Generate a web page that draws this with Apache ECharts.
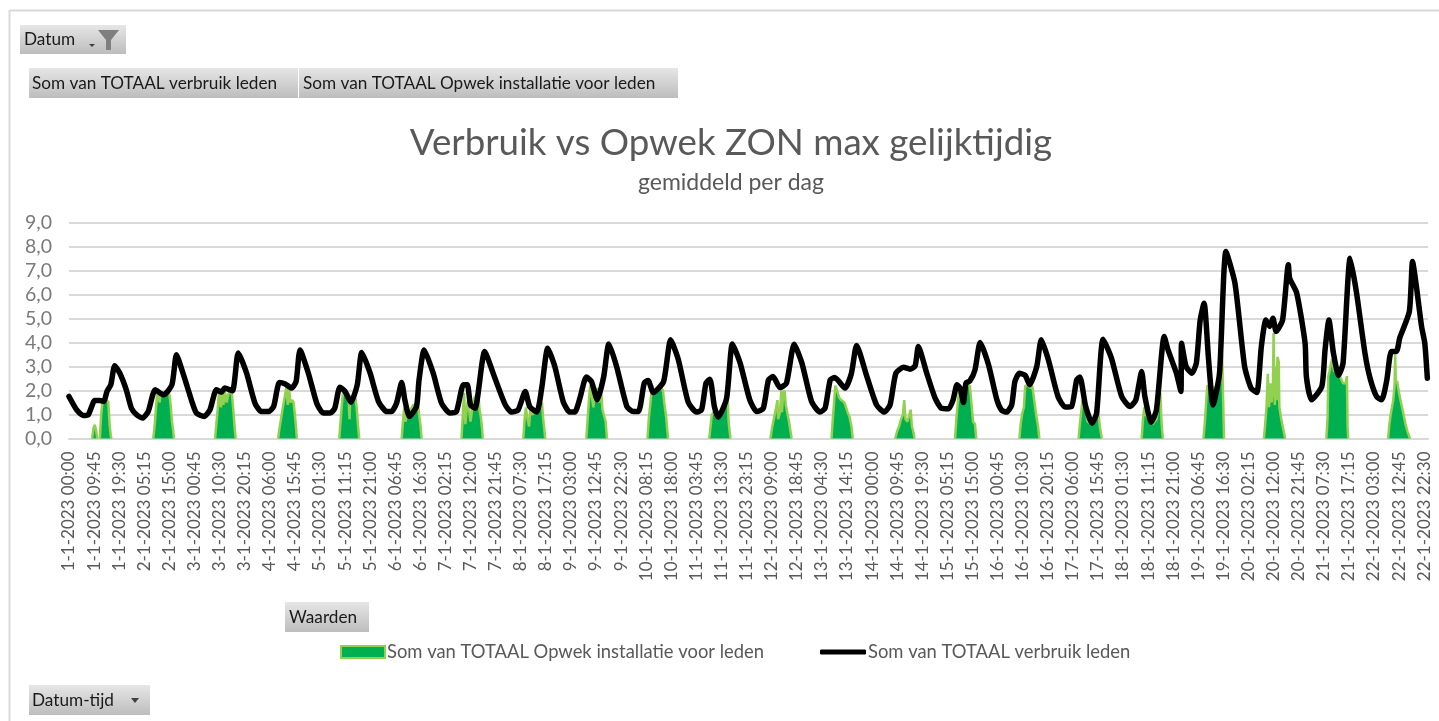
<!DOCTYPE html>
<html>
<head>
<meta charset="utf-8">
<title>Verbruik vs Opwek</title>
<script src="https://cdn.jsdelivr.net/npm/echarts@6/dist/echarts.min.js"></script>
<style>
  html, body { margin: 0; padding: 0; background: #fff; }
  #chart { width: 1439px; height: 721px; }
</style>
</head>
<body>
<div id="chart"></div>
<script>
// x = kwartier sinds 1-1-2023 00:00
const tijdLabels = [
  '1-1-2023 00:00','1-1-2023 09:45','1-1-2023 19:30','2-1-2023 05:15','2-1-2023 15:00',
  '3-1-2023 00:45','3-1-2023 10:30','3-1-2023 20:15','4-1-2023 06:00','4-1-2023 15:45',
  '5-1-2023 01:30','5-1-2023 11:15','5-1-2023 21:00','6-1-2023 06:45','6-1-2023 16:30',
  '7-1-2023 02:15','7-1-2023 12:00','7-1-2023 21:45','8-1-2023 07:30','8-1-2023 17:15',
  '9-1-2023 03:00','9-1-2023 12:45','9-1-2023 22:30','10-1-2023 08:15','10-1-2023 18:00',
  '11-1-2023 03:45','11-1-2023 13:30','11-1-2023 23:15','12-1-2023 09:00','12-1-2023 18:45',
  '13-1-2023 04:30','13-1-2023 14:15','14-1-2023 00:00','14-1-2023 09:45','14-1-2023 19:30',
  '15-1-2023 05:15','15-1-2023 15:00','16-1-2023 00:45','16-1-2023 10:30','16-1-2023 20:15',
  '17-1-2023 06:00','17-1-2023 15:45','18-1-2023 01:30','18-1-2023 11:15','18-1-2023 21:00',
  '19-1-2023 06:45','19-1-2023 16:30','20-1-2023 02:15','20-1-2023 12:00','20-1-2023 21:45',
  '21-1-2023 07:30','21-1-2023 17:15','22-1-2023 03:00','22-1-2023 12:45','22-1-2023 22:30'
];

const verbruik = [
  [0,1.75],[12,1.19],[22,.96],[30,.99],[40,1.58],[48,1.58],[54,1.54],[59,1.96],[65,2.24],[71,3.03],[79,2.72],[89,2.03],[97,1.26],
  [105,.99],[114,.85],[123,1.12],[134,2.03],[147,1.82],[160,2.24],[167,3.49],[178,2.65],[191,1.54],[198,1.06],
  [210,.92],[219,1.19],[229,2.03],[237,1.93],[242,2.1],[254,1.99],[263,3.56],[276,2.72],[289,1.47],
  [299,1.12],[310,1.12],[318,1.33],[327,2.33],[336,2.27],[346,2.1],[353,2.38],[359,3.69],[372,2.72],[385,1.47],
  [395,1.06],[406,1.06],[413,1.26],[421,2.14],[429,1.96],[438,1.51],[448,2.24],[455,3.58],[468,2.72],[481,1.54],
  [494,1.12],[501,1.12],[509,1.47],[517,2.33],[522,1.6],[529,.92],[540,1.33],[544,2.44],[552,3.69],[566,2.72],[579,1.47],
  [592,1.06],[602,1.12],[613,2.24],[619,2.24],[624,1.4],[631,1.26],[646,3.62],[662,2.51],[678,1.4],
  [688,1.1],[698,1.19],[709,1.96],[716,1.33],[727,1.1],[735,2.17],[744,3.76],[755,3.0],[768,1.54],
  [778,1.1],[786,1.1],[794,1.68],[804,2.56],[812,2.37],[821,1.61],[831,2.58],[839,3.94],[851,3.0],[867,1.33],
  [877,1.12],[885,1.12],[894,2.31],[900,2.42],[908,1.92],[924,2.37],[935,4.11],[947,3.28],[962,1.54],
  [975,1.1],[983,1.19],[990,2.31],[996,2.47],[1003,1.33],[1009,.89],[1022,1.68],[1031,3.94],[1043,3.14],[1058,1.61],
  [1069,1.12],[1079,1.26],[1087,2.44],[1094,2.58],[1105,2.12],[1115,2.31],[1127,3.93],[1139,3.14],[1154,1.54],
  [1167,1.1],[1175,1.26],[1183,2.44],[1190,2.54],[1206,2.1],[1216,2.72],[1224,3.88],[1240,2.58],[1255,1.4],
  [1267,1.1],[1276,1.4],[1285,2.72],[1297,2.97],[1307,2.89],[1315,3.03],[1320,3.83],[1333,2.72],[1346,1.68],
  [1356,1.26],[1367,1.24],[1374,1.61],[1380,2.24],[1385,2.1],[1390,1.5],[1394,2.31],[1400,2.4],[1408,2.86],[1416,4.0],[1429,3.07],[1442,1.61],
  [1449,1.19],[1457,1.1],[1465,1.4],[1470,2.37],[1477,2.72],[1486,2.63],[1493,2.24],[1504,3.0],[1511,4.11],[1522,3.28],[1537,1.75],
  [1548,1.31],[1558,1.33],[1566,2.44],[1571,2.56],[1580,1.33],[1590,.64],[1597,1.06],[1607,4.14],[1620,3.35],[1636,1.75],
  [1649,1.33],[1658,1.61],[1667,2.79],[1672,1.75],[1682,.68],[1690,1.19],[1702,4.25],[1708,3.69],[1721,2.72],[1728,1.96],
  [1729,3.97],[1736,3.0],[1745,2.72],[1752,3.14],[1758,4.94],[1764,5.64],[1771,3.28],[1778,1.4],[1788,2.72],[1798,7.79],[1812,6.47],[1827,3.0],
  [1837,2.1],[1846,1.92],[1853,3.83],[1860,4.94],[1866,4.67],[1871,5.01],[1876,4.46],[1886,4.94],[1895,7.24],[1897,6.68],[1908,6.06],[1921,3.97],
  [1923,2.58],[1931,1.61],[1947,2.17],[1952,3.69],[1958,4.94],[1965,3.56],[1973,2.63],[1980,3.14],[1991,7.51],[2001,6.06],[2014,3.56],
  [2022,2.51],[2032,1.75],[2040,1.61],[2048,2.44],[2055,3.63],[2063,3.63],[2068,4.18],[2083,5.29],[2088,7.38],[2094,6.33],[2102,4.67],[2107,3.97],[2111,2.51]
];

// opwek per dag (alleen de uren met zon)
const opwekDagen = [
  [[36,0],[38,.43],[40,.57],[42,.36],[44,0]],
  [[48,0],[50,1.0],[52,1.5],[61,1.55],[63,.6],[65,.1],[66,0]],
  [[131,0],[133,.5],[135,1.2],[137,1.85],[141,1.5],[142,1.9],[152,1.85],[156,1.85],[158,1.4],[160,.7],[162,.3],[163,0]],
  [[227,0],[229,.6],[231,1.2],[233,1.9],[236,1.3],[238,1.9],[240,1.4],[242,2.0],[245,1.5],[248,1.9],[253,1.9],[255,1.3],[257,.6],[259,0]],
  [[325,0],[327,.4],[330,.9],[333,1.4],[336,1.4],[338,2.15],[340,1.4],[342,2.1],[344,1.5],[347,1.6],[349,1.5],[351,1.0],[353,.4],[354,0]],
  [[420,0],[422,.7],[424,1.4],[426,2.0],[430,1.9],[432,1.8],[434,1.9],[436,.8],[437,1.8],[440,1.5],[445,1.7],[447,1.3],[449,.6],[451,0]],
  [[517,0],[519,.7],[521,1.3],[523,.7],[525,1.0],[528,.9],[531,1.2],[535,1.4],[540,1.4],[542,1.5],[544,1.0],[546,.6],[548,0]],
  [[610,0],[612,1.0],[614,1.9],[616,.6],[618,1.2],[620,1.6],[624,.7],[626,1.1],[630,1.7],[636,1.9],[638,1.2],[640,.9],[642,.4],[643,0]],
  [[706,0],[708,.8],[710,1.3],[712,.9],[715,.5],[717,1.2],[720,1.0],[724,1.1],[730,1.3],[735,1.5],[737,.8],[739,.3],[740,0]],
  [[804,0],[806,.8],[808,1.6],[810,2.2],[812,2.2],[815,1.3],[817,2.0],[820,2.1],[824,1.5],[827,2.0],[829,1.2],[831,1.0],[834,.7],[836,0]],
  [[899,0],[901,.8],[904,1.6],[906,2.2],[908,2.0],[915,2.0],[920,2.1],[923,2.0],[925,1.5],[928,.9],[931,0]],
  [[995,0],[997,.5],[999,1.0],[1002,1.1],[1006,.9],[1012,.9],[1016,1.3],[1022,1.6],[1024,1.5],[1025,.7],[1028,0]],
  [[1090,0],[1093,.5],[1096,.9],[1099,1.3],[1101,1.6],[1102,.8],[1105,1.1],[1107,2.0],[1108,1.1],[1110,1.9],[1112,2.0],[1114,1.4],[1116,1.1],[1119,.7],[1123,0]],
  [[1185,0],[1187,.8],[1189,1.5],[1191,2.2],[1194,2.2],[1197,1.7],[1200,1.6],[1205,1.5],[1210,1.1],[1213,.9],[1216,.5],[1218,0]],
  [[1284,0],[1287,.3],[1290,.5],[1293,.8],[1296,1.0],[1298,1.6],[1300,.8],[1303,.7],[1306,.7],[1308,1.2],[1310,.5],[1312,.3],[1314,0]],
  [[1377,0],[1379,.8],[1381,1.4],[1383,1.4],[1384,2.2],[1386,1.6],[1395,2.2],[1400,2.2],[1403,2.2],[1405,.7],[1408,.6],[1410,0]],
  [[1477,0],[1479,.6],[1481,1.0],[1484,1.3],[1486,2.2],[1490,2.2],[1494,2.1],[1497,2.2],[1499,2.2],[1501,1.4],[1503,1.0],[1506,.5],[1508,0]],
  [[1569,0],[1571,.6],[1573,1.1],[1575,1.6],[1579,1.3],[1583,.7],[1590,.6],[1595,.9],[1598,1.4],[1600,1.0],[1602,.5],[1605,0]],
  [[1667,0],[1669,.8],[1671,1.3],[1673,1.0],[1678,.8],[1684,.6],[1690,.8],[1694,1.5],[1696,1.9],[1698,.6],[1700,0]],
  [[1763,0],[1765,.6],[1767,1.4],[1769,2.2],[1772,2.2],[1780,2.1],[1785,2.2],[1790,2.8],[1792,3.5],[1794,3.5],[1795,0]],
  [[1857,0],[1859,.6],[1861,1.3],[1863,2.7],[1865,1.3],[1867,2.3],[1869,1.5],[1871,2.2],[1872,4.4],[1874,1.4],[1875,3.0],[1877,1.6],[1878,3.4],[1880,3.2],[1881,1.3],[1884,.8],[1887,.4],[1890,0]],
  [[1954,0],[1955,.4],[1956,.9],[1957,2.6],[1959,2.8],[1961,3.1],[1963,3.3],[1966,2.8],[1970,2.8],[1975,2.6],[1980,2.3],[1984,2.3],[1986,2.6],[1987,.5],[1988,0]],
  [[2050,0],[2052,.6],[2054,1.0],[2056,1.3],[2058,1.6],[2060,2.2],[2061,3.5],[2062,2.3],[2064,2.4],[2067,1.9],[2070,1.5],[2074,1.0],[2077,.6],[2080,.3],[2084,0]]
];

const naamOpwek = 'Som van TOTAAL Opwek installatie voor leden';
const naamVerbruik = 'Som van TOTAAL verbruik leden';
const lettertype = 'Lato';

// dagen achter elkaar, met een gat ertussen
const opwek = [];
opwekDagen.forEach(dag => {
  dag.forEach(p => opwek.push(p));
  opwek.push([dag[dag.length - 1][0] + 1, null]);
});

// knoppen van de draaitabel
const knopVulling = {
  type: 'linear', x: 0, y: 0, x2: 0, y2: 1,
  colorStops: [{ offset: 0, color: '#e6e6e6' }, { offset: 1, color: '#bdbdbd' }]
};
const knop = (x, y, w, h, tekst, tekstX) => [
  { type: 'rect', shape: { x, y, width: w, height: h }, style: { fill: knopVulling }, silent: true },
  {
    type: 'text', x: tekstX, y: y + h / 2,
    style: { text: tekst, fill: '#1a1a1a', font: '17.2px ' + lettertype, textVerticalAlign: 'middle' },
    silent: true
  }
];

const myChart = echarts.init(document.getElementById('chart'));
myChart.setOption({
  animation: false,
  backgroundColor: '#ffffff',
  title: {
    text: 'Verbruik vs Opwek ZON max gelijktijdig',
    subtext: 'gemiddeld per dag',
    left: 726,
    top: 120,
    textAlign: 'center',
    itemGap: 9,
    textStyle: { fontFamily: lettertype, fontSize: 36.7, fontWeight: 'normal', color: '#595959' },
    subtextStyle: { fontFamily: lettertype, fontSize: 23, color: '#595959' }
  },
  legend: [
    {
      left: 335, top: 638, itemWidth: 44, itemHeight: 12, selectedMode: false,
      data: [{ name: naamOpwek, icon: 'rect' }],
      textStyle: { fontFamily: lettertype, fontSize: 18.4, color: '#595959', padding: [0, 0, 0, -3] }
    },
    {
      left: 815, top: 638, itemWidth: 46, itemHeight: 5, selectedMode: false,
      data: [{ name: naamVerbruik, icon: 'roundRect' }],
      textStyle: { fontFamily: lettertype, fontSize: 18.4, color: '#595959', padding: [0, 0, 0, -3] }
    }
  ],
  grid: { left: 69, right: 11, top: 222.5, height: 216 },
  xAxis: {
    type: 'value',
    min: 0,
    max: 2112,
    interval: 39,
    axisLine: { show: true, lineStyle: { color: '#d9d9d9', width: 2 } },
    axisTick: { show: false },
    splitLine: { show: false },
    axisLabel: {
      rotate: 90,
      margin: 13,
      color: '#595959',
      fontFamily: lettertype,
      fontSize: 17,
      hideOverlap: false,
      formatter: v => tijdLabels[v / 39] || ''
    }
  },
  yAxis: {
    type: 'value',
    min: 0,
    max: 9,
    interval: 1,
    axisLine: { show: false },
    axisTick: { show: false },
    splitLine: { lineStyle: { color: '#d9d9d9', width: 2 } },
    axisLabel: {
      margin: 17,
      color: '#7a7a7a',
      fontFamily: lettertype,
      fontSize: 19.5,
      formatter: v => v.toFixed(1).replace('.', ',')
    }
  },
  series: [
    {
      name: naamOpwek,
      type: 'line',
      data: opwek,
      symbol: 'none',
      lineStyle: { color: '#92d050', width: 2.5 },
      itemStyle: { color: '#00b050', borderColor: '#92d050', borderWidth: 2 },
      areaStyle: { color: '#00b050', opacity: 1 },
      z: 2
    },
    {
      name: naamVerbruik,
      type: 'line',
      data: verbruik,
      symbol: 'none',
      smooth: 0.2,
      lineStyle: { color: '#000000', width: 5.5, cap: 'round', join: 'round' },
      itemStyle: { color: '#000000' },
      z: 3
    }
  ],
  graphic: [
    { type: 'line', shape: { x1: 10, y1: 10.5, x2: 1439, y2: 10.5 }, style: { stroke: '#d9d9d9', lineWidth: 2 }, silent: true },
    { type: 'line', shape: { x1: 9.5, y1: 10, x2: 9.5, y2: 721 }, style: { stroke: '#d9d9d9', lineWidth: 2 }, silent: true },
    ...knop(20, 25, 106, 29, 'Datum', 24),
    { type: 'polygon', shape: { points: [[98, 30], [119, 30], [111, 40], [111, 50], [106, 50], [106, 40]] }, style: { fill: '#7f7f7f' }, silent: true },
    { type: 'polygon', shape: { points: [[89, 44], [95, 44], [92, 47]] }, style: { fill: '#404040' }, silent: true },
    ...knop(29, 68, 269, 30, 'Som van TOTAAL verbruik leden', 32),
    ...knop(299, 68, 379, 30, 'Som van TOTAAL Opwek installatie voor leden', 303),
    ...knop(285, 602, 84, 30, 'Waarden', 289),
    ...knop(29, 685, 121, 30, 'Datum-tijd', 32),
    { type: 'polygon', shape: { points: [[131, 698], [139, 698], [135, 703]] }, style: { fill: '#404040' }, silent: true }
  ]
});
</script>
</body>
</html>
